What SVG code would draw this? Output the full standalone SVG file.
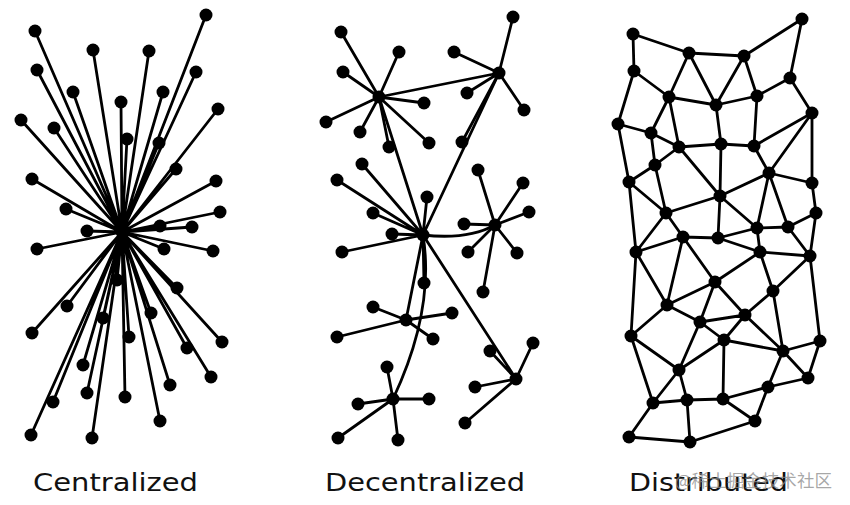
<svg xmlns="http://www.w3.org/2000/svg" width="850" height="505" viewBox="0 0 850 505">
<style>
.e{stroke:#000;stroke-width:2.8;fill:none;stroke-linecap:round}
.n circle{fill:#000;r:6.5px}
.lbl{font-family:"DejaVu Sans","Liberation Sans",sans-serif;font-size:25px;fill:#111}
.wm{font-family:"Noto Sans CJK SC","DejaVu Sans",sans-serif;font-size:17px;fill:#8a8a8a;fill-opacity:0.75}
</style>
<rect width="850" height="505" fill="#fff"/>
<!-- Centralized connectors -->
<g id="centralized-edges" class="e">
<path d="M122,232L35,31M122,232L206,15M122,232L93,50M122,232L149,51M122,232L37,70M122,232L196,72M122,232L73,92M122,232L163,92M122,232L121,102M122,232L21,120M122,232L218,109M122,232L54,128M122,232L127,139M122,232L159,143M122,232L32,179M122,232L176,169M122,232L216,181M122,232L66,209M122,232L220,212M122,232L87,231M122,232L160,226M122,232L192,227M122,232L37,249M122,232L164,249M122,232L213,251M122,232L117,280M122,232L177,288M122,232L67,306M122,232L151,313M122,232L103,318M122,232L32,333M122,232L222,342M122,232L129,337M122,232L187,348M122,232L83,365M122,232L211,377M122,232L87,393M122,232L125,397M122,232L170,385M122,232L53,402M122,232L160,421M122,232L31,435M122,232L92,438"/>
</g>
<g id="centralized-nodes" class="n">
<g id="c0"><circle cx="122" cy="232" r="6.5"/></g>
<g id="c1"><circle cx="35" cy="31" r="6.5"/></g>
<g id="c2"><circle cx="206" cy="15" r="6.5"/></g>
<g id="c3"><circle cx="93" cy="50" r="6.5"/></g>
<g id="c4"><circle cx="149" cy="51" r="6.5"/></g>
<g id="c5"><circle cx="37" cy="70" r="6.5"/></g>
<g id="c6"><circle cx="196" cy="72" r="6.5"/></g>
<g id="c7"><circle cx="73" cy="92" r="6.5"/></g>
<g id="c8"><circle cx="163" cy="92" r="6.5"/></g>
<g id="c9"><circle cx="121" cy="102" r="6.5"/></g>
<g id="c10"><circle cx="21" cy="120" r="6.5"/></g>
<g id="c11"><circle cx="218" cy="109" r="6.5"/></g>
<g id="c12"><circle cx="54" cy="128" r="6.5"/></g>
<g id="c13"><circle cx="127" cy="139" r="6.5"/></g>
<g id="c14"><circle cx="159" cy="143" r="6.5"/></g>
<g id="c15"><circle cx="32" cy="179" r="6.5"/></g>
<g id="c16"><circle cx="176" cy="169" r="6.5"/></g>
<g id="c17"><circle cx="216" cy="181" r="6.5"/></g>
<g id="c18"><circle cx="66" cy="209" r="6.5"/></g>
<g id="c19"><circle cx="220" cy="212" r="6.5"/></g>
<g id="c20"><circle cx="87" cy="231" r="6.5"/></g>
<g id="c21"><circle cx="160" cy="226" r="6.5"/></g>
<g id="c22"><circle cx="192" cy="227" r="6.5"/></g>
<g id="c23"><circle cx="37" cy="249" r="6.5"/></g>
<g id="c24"><circle cx="164" cy="249" r="6.5"/></g>
<g id="c25"><circle cx="213" cy="251" r="6.5"/></g>
<g id="c26"><circle cx="117" cy="280" r="6.5"/></g>
<g id="c27"><circle cx="177" cy="288" r="6.5"/></g>
<g id="c28"><circle cx="67" cy="306" r="6.5"/></g>
<g id="c29"><circle cx="151" cy="313" r="6.5"/></g>
<g id="c30"><circle cx="103" cy="318" r="6.5"/></g>
<g id="c31"><circle cx="32" cy="333" r="6.5"/></g>
<g id="c32"><circle cx="222" cy="342" r="6.5"/></g>
<g id="c33"><circle cx="129" cy="337" r="6.5"/></g>
<g id="c34"><circle cx="187" cy="348" r="6.5"/></g>
<g id="c35"><circle cx="83" cy="365" r="6.5"/></g>
<g id="c36"><circle cx="211" cy="377" r="6.5"/></g>
<g id="c37"><circle cx="87" cy="393" r="6.5"/></g>
<g id="c38"><circle cx="125" cy="397" r="6.5"/></g>
<g id="c39"><circle cx="170" cy="385" r="6.5"/></g>
<g id="c40"><circle cx="53" cy="402" r="6.5"/></g>
<g id="c41"><circle cx="160" cy="421" r="6.5"/></g>
<g id="c42"><circle cx="31" cy="435" r="6.5"/></g>
<g id="c43"><circle cx="92" cy="438" r="6.5"/></g>
</g>
<!-- Decentralized connectors -->
<g id="decentralized-edges" class="e">
<path d="M379,97L341,32M379,97L399,52M379,97L343,72M379,97L326,122M379,97L424,103M379,97L360,132M379,97L429,143M379,97L389,147"/>
<path d="M499,73L513,17M499,73L454,52M499,73L467,93M499,73L524,110M499,73L462,142M499,73L379,97"/>
<path d="M423,235L337,180M423,235L362,164M423,235L373,213M423,235L427,197M423,235L392,234M423,235L342,252M423,235L424,283M423,235L379,97M423,235L499,73"/>
<path d="M495,225L478,170M495,225L523,183M495,225L529,212M495,225L464,224M495,225L468,252M495,225L517,253M495,225L483,292"/>
<path d="M423,235Q468,240 495,225"/>
<path d="M406,320L373,307M406,320L452,313M406,320L337,337M406,320L433,339M406,320L423,235"/>
<path d="M393,399L387,367M393,399L358,404M393,399L429,399M393,399L338,438M393,399L398,440"/>
<path d="M423,235Q435,310 393,399"/>
<path d="M516,379L533,343M516,379L490,351M516,379L475,387M516,379L465,423M516,379L423,235"/>
</g>
<g id="decentralized-nodes" class="n">
<g id="dA"><circle cx="379" cy="97" r="6.5"/></g>
<g id="dA1"><circle cx="341" cy="32" r="6.5"/></g>
<g id="dA2"><circle cx="399" cy="52" r="6.5"/></g>
<g id="dA3"><circle cx="343" cy="72" r="6.5"/></g>
<g id="dA4"><circle cx="326" cy="122" r="6.5"/></g>
<g id="dA5"><circle cx="424" cy="103" r="6.5"/></g>
<g id="dA6"><circle cx="360" cy="132" r="6.5"/></g>
<g id="dA7"><circle cx="429" cy="143" r="6.5"/></g>
<g id="dA8"><circle cx="389" cy="147" r="6.5"/></g>
<g id="dB"><circle cx="499" cy="73" r="6.5"/></g>
<g id="dB1"><circle cx="513" cy="17" r="6.5"/></g>
<g id="dB2"><circle cx="454" cy="52" r="6.5"/></g>
<g id="dB3"><circle cx="467" cy="93" r="6.5"/></g>
<g id="dB4"><circle cx="524" cy="110" r="6.5"/></g>
<g id="dB5"><circle cx="462" cy="142" r="6.5"/></g>
<g id="dC"><circle cx="423" cy="235" r="6.5"/></g>
<g id="dC1"><circle cx="337" cy="180" r="6.5"/></g>
<g id="dC2"><circle cx="362" cy="164" r="6.5"/></g>
<g id="dC3"><circle cx="373" cy="213" r="6.5"/></g>
<g id="dC4"><circle cx="427" cy="197" r="6.5"/></g>
<g id="dC5"><circle cx="392" cy="234" r="6.5"/></g>
<g id="dC6"><circle cx="342" cy="252" r="6.5"/></g>
<g id="dC7"><circle cx="424" cy="283" r="6.5"/></g>
<g id="dD"><circle cx="495" cy="225" r="6.5"/></g>
<g id="dD1"><circle cx="478" cy="170" r="6.5"/></g>
<g id="dD2"><circle cx="523" cy="183" r="6.5"/></g>
<g id="dD3"><circle cx="529" cy="212" r="6.5"/></g>
<g id="dD4"><circle cx="464" cy="224" r="6.5"/></g>
<g id="dD5"><circle cx="468" cy="252" r="6.5"/></g>
<g id="dD6"><circle cx="517" cy="253" r="6.5"/></g>
<g id="dD7"><circle cx="483" cy="292" r="6.5"/></g>
<g id="dE"><circle cx="406" cy="320" r="6.5"/></g>
<g id="dE1"><circle cx="373" cy="307" r="6.5"/></g>
<g id="dE2"><circle cx="452" cy="313" r="6.5"/></g>
<g id="dE3"><circle cx="337" cy="337" r="6.5"/></g>
<g id="dE4"><circle cx="433" cy="339" r="6.5"/></g>
<g id="dF"><circle cx="393" cy="399" r="6.5"/></g>
<g id="dF1"><circle cx="387" cy="367" r="6.5"/></g>
<g id="dF2"><circle cx="358" cy="404" r="6.5"/></g>
<g id="dF3"><circle cx="429" cy="399" r="6.5"/></g>
<g id="dF4"><circle cx="338" cy="438" r="6.5"/></g>
<g id="dF5"><circle cx="398" cy="440" r="6.5"/></g>
<g id="dG"><circle cx="516" cy="379" r="6.5"/></g>
<g id="dG1"><circle cx="533" cy="343" r="6.5"/></g>
<g id="dG2"><circle cx="490" cy="351" r="6.5"/></g>
<g id="dG3"><circle cx="475" cy="387" r="6.5"/></g>
<g id="dG4"><circle cx="465" cy="423" r="6.5"/></g>
</g>
<!-- Distributed connectors -->
<g id="distributed-edges" class="e">
<path d="M633,34L689,53M633,34L634,71M689,53L744,56M744,56L802,19M802,19L790,78M689,53L669,97M689,53L716,105M744,56L716,105M744,56L757,96M634,71L669,97M634,71L618,124M669,97L716,105M716,105L757,96M757,96L790,78M790,78L812,113M669,97L651,133M669,97L679,147M716,105L721,144M757,96L754,146M618,124L651,133M651,133L679,147M679,147L721,144M721,144L754,146M754,146L812,113"/>
<path d="M812,113L769,173M812,113L812,183M618,124L629,182M651,133L655,165M679,147L655,165M679,147L720,196M721,144L720,196M754,146L769,173"/>
<path d="M655,165L629,182M655,165L666,213M629,182L666,213M629,182L636,252M769,173L720,196M769,173L812,183M769,173L757,228M769,173L788,227M812,183L816,213M720,196L666,213M720,196L718,238M720,196L757,228M666,213L683,237M666,213L636,252M816,213L788,227M816,213L810,256M757,228L788,227M757,228L718,238M757,228L760,252M788,227L810,256M683,237L718,238M683,237L636,252M683,237L667,305M683,237L715,282M718,238L760,252M636,252L667,305M636,252L631,336M760,252L810,256M760,252L715,282M760,252L773,291M810,256L773,291M810,256L820,341M715,282L667,305M715,282L700,322M715,282L745,315M773,291L745,315M773,291L783,351M667,305L631,336M667,305L700,322"/>
<path d="M700,322L745,315M700,322L724,340M700,322L679,370M745,315L724,340M745,315L783,351M724,340L783,351M724,340L679,370M724,340L723,399M631,336L679,370M631,336L653,403M679,370L653,403M679,370L687,400M820,341L783,351M820,341L808,378M783,351L808,378M783,351L768,387M808,378L768,387M768,387L723,399M768,387L755,421M653,403L687,400M653,403L629,437M687,400L723,399M687,400L690,442M723,399L755,421M755,421L690,442M629,437L690,442"/>
</g>
<g id="distributed-nodes" class="n">
<g id="n1"><circle cx="633" cy="34" r="6.5"/></g>
<g id="n2"><circle cx="802" cy="19" r="6.5"/></g>
<g id="n3"><circle cx="689" cy="53" r="6.5"/></g>
<g id="n4"><circle cx="744" cy="56" r="6.5"/></g>
<g id="n5"><circle cx="634" cy="71" r="6.5"/></g>
<g id="n6"><circle cx="790" cy="78" r="6.5"/></g>
<g id="n7"><circle cx="669" cy="97" r="6.5"/></g>
<g id="n8"><circle cx="716" cy="105" r="6.5"/></g>
<g id="n9"><circle cx="757" cy="96" r="6.5"/></g>
<g id="n10"><circle cx="812" cy="113" r="6.5"/></g>
<g id="n11"><circle cx="618" cy="124" r="6.5"/></g>
<g id="n12"><circle cx="651" cy="133" r="6.5"/></g>
<g id="n13"><circle cx="679" cy="147" r="6.5"/></g>
<g id="n14"><circle cx="721" cy="144" r="6.5"/></g>
<g id="n15"><circle cx="754" cy="146" r="6.5"/></g>
<g id="m1"><circle cx="655" cy="165" r="6.5"/></g>
<g id="m3"><circle cx="629" cy="182" r="6.5"/></g>
<g id="m4"><circle cx="769" cy="173" r="6.5"/></g>
<g id="m5"><circle cx="812" cy="183" r="6.5"/></g>
<g id="m6"><circle cx="720" cy="196" r="6.5"/></g>
<g id="m7"><circle cx="666" cy="213" r="6.5"/></g>
<g id="m8"><circle cx="816" cy="213" r="6.5"/></g>
<g id="m9"><circle cx="757" cy="228" r="6.5"/></g>
<g id="m10"><circle cx="788" cy="227" r="6.5"/></g>
<g id="m11"><circle cx="683" cy="237" r="6.5"/></g>
<g id="m12"><circle cx="718" cy="238" r="6.5"/></g>
<g id="m13"><circle cx="636" cy="252" r="6.5"/></g>
<g id="m14"><circle cx="760" cy="252" r="6.5"/></g>
<g id="m15"><circle cx="810" cy="256" r="6.5"/></g>
<g id="m16"><circle cx="715" cy="282" r="6.5"/></g>
<g id="m17"><circle cx="773" cy="291" r="6.5"/></g>
<g id="m18"><circle cx="667" cy="305" r="6.5"/></g>
<g id="p2"><circle cx="700" cy="322" r="6.5"/></g>
<g id="p3"><circle cx="745" cy="315" r="6.5"/></g>
<g id="p4"><circle cx="631" cy="336" r="6.5"/></g>
<g id="p5"><circle cx="724" cy="340" r="6.5"/></g>
<g id="p6"><circle cx="820" cy="341" r="6.5"/></g>
<g id="p7"><circle cx="783" cy="351" r="6.5"/></g>
<g id="p8"><circle cx="679" cy="370" r="6.5"/></g>
<g id="p9"><circle cx="808" cy="378" r="6.5"/></g>
<g id="p10"><circle cx="768" cy="387" r="6.5"/></g>
<g id="p11"><circle cx="653" cy="403" r="6.5"/></g>
<g id="p12"><circle cx="687" cy="400" r="6.5"/></g>
<g id="p13"><circle cx="723" cy="399" r="6.5"/></g>
<g id="p14"><circle cx="755" cy="421" r="6.5"/></g>
<g id="p15"><circle cx="629" cy="437" r="6.5"/></g>
<g id="p16"><circle cx="690" cy="442" r="6.5"/></g>
</g>
<g id="labels">
<text class="lbl" x="33" y="491" textLength="165" lengthAdjust="spacingAndGlyphs">Centralized</text>
<text class="lbl" x="325" y="491" textLength="200" lengthAdjust="spacingAndGlyphs">Decentralized</text>
<text class="lbl" x="629" y="491" textLength="159" lengthAdjust="spacingAndGlyphs">Distributed</text>
<text class="wm" x="675" y="487" textLength="157" lengthAdjust="spacingAndGlyphs">@稀土掘金技术社区</text>
</g>
</svg>
